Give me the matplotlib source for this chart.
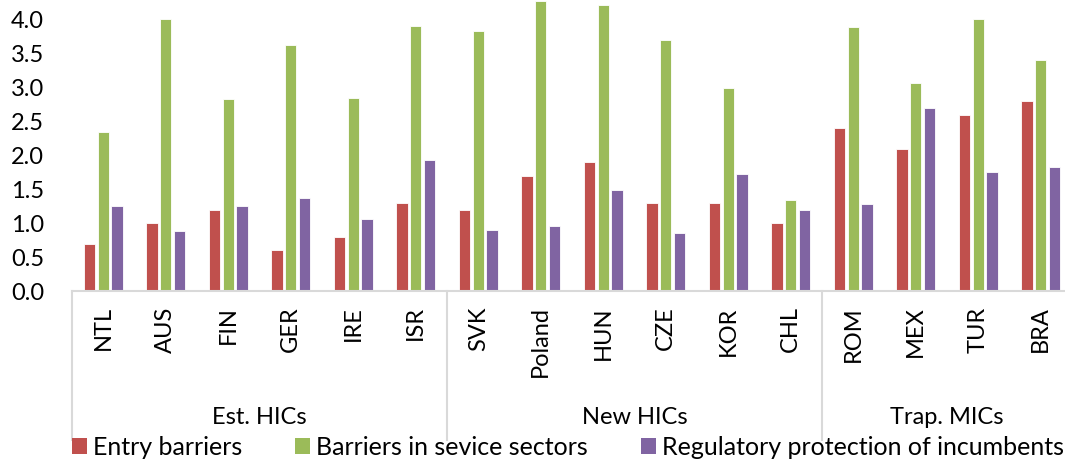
#regulation chart - bars by country, grouped by income class
import numpy as np
import matplotlib
matplotlib.use('Agg')
import matplotlib.pyplot as plt
from matplotlib.patches import Patch
import matplotlib.transforms as transforms

plt.rcParams['font.family'] = ['Lato', 'DejaVu Sans']

#data
countries = ['NTL', 'AUS', 'FIN', 'GER', 'IRE', 'ISR',
             'SVK', 'Poland', 'HUN', 'CZE', 'KOR', 'CHL',
             'ROM', 'MEX', 'TUR', 'BRA']
groups = ['Est. HICs', 'New HICs', 'Trap. MICs']
group_sizes = [6, 6, 4]
entry = [0.7, 1.0, 1.2, 0.6, 0.8, 1.3,
         1.2, 1.7, 1.9, 1.3, 1.3, 1.0,
         2.4, 2.1, 2.6, 2.8]
service = [2.34, 4.02, 2.83, 3.63, 2.85, 3.91,
           3.84, 4.28, 4.22, 3.70, 2.99, 1.35,
           3.89, 3.07, 4.02, 3.41]
incumbents = [1.25, 0.89, 1.26, 1.37, 1.07, 1.93,
              0.90, 0.96, 1.49, 0.86, 1.72, 1.19,
              1.28, 2.70, 1.76, 1.83]
series_names = ['Entry barriers', 'Barriers in sevice sectors',
                'Regulatory protection of incumbents']
colors = ['#C0504D', '#9BBB59', '#8064A2']
grey = '#D9D9D9'

W, H = 1065, 461
fig = plt.figure(figsize=(W/100, H/100), dpi=100)
ax = fig.add_axes([72/W, (H-291)/H, 1000/W, 291/H])

x = np.arange(len(countries))
bw = 0.18
pitch = 0.22
for k, vals in enumerate([entry, service, incumbents]):
    ax.bar(x + (k-1)*pitch, vals, width=bw, color=colors[k],
           edgecolor='white', linewidth=0.6)

ax.set_xlim(-0.5, len(countries)-0.5)
ax.set_ylim(0, 4.295)
ax.set_yticks(np.arange(0, 4.01, 0.5))
ax.set_yticklabels(['%.1f' % v for v in np.arange(0, 4.01, 0.5)], fontsize=17)
ax.set_xticks(x)
ax.set_xticklabels(countries, rotation=90, fontsize=17, va='top')
ax.tick_params(axis='both', length=0)
ax.tick_params(axis='y', pad=20)
ax.tick_params(axis='x', pad=11)
for s in ['top', 'right', 'left']:
    ax.spines[s].set_visible(False)
ax.spines['bottom'].set_color(grey)
ax.spines['bottom'].set_linewidth(1.5)

#group separators and group labels below the axis
trans = transforms.blended_transform_factory(ax.transData, ax.transAxes)
bottom = -(440-291)/291
start = 0
for name, n in zip(groups, group_sizes):
    ax.plot([start-0.5, start-0.5], [0, bottom], color=grey, lw=1.5,
            transform=trans, clip_on=False)
    ax.text(start + (n-1)/2, -(417-291)/291, name, transform=trans,
            ha='center', va='center', fontsize=17)
    start += n
ax.plot([start-0.5, start-0.5], [0, bottom], color=grey, lw=1.5,
        transform=trans, clip_on=False)

#legend at the bottom
handles = [Patch(facecolor=c, edgecolor='none') for c in colors]
fig.legend(handles, series_names, loc='center left', ncol=3,
           bbox_to_anchor=(72/W, 14/H), frameon=False, fontsize=18,
           handlelength=0.6, handleheight=0.6, handletextpad=0.25,
           columnspacing=2.1, borderaxespad=0, borderpad=0)

fig.savefig('out.png', dpi=100)
